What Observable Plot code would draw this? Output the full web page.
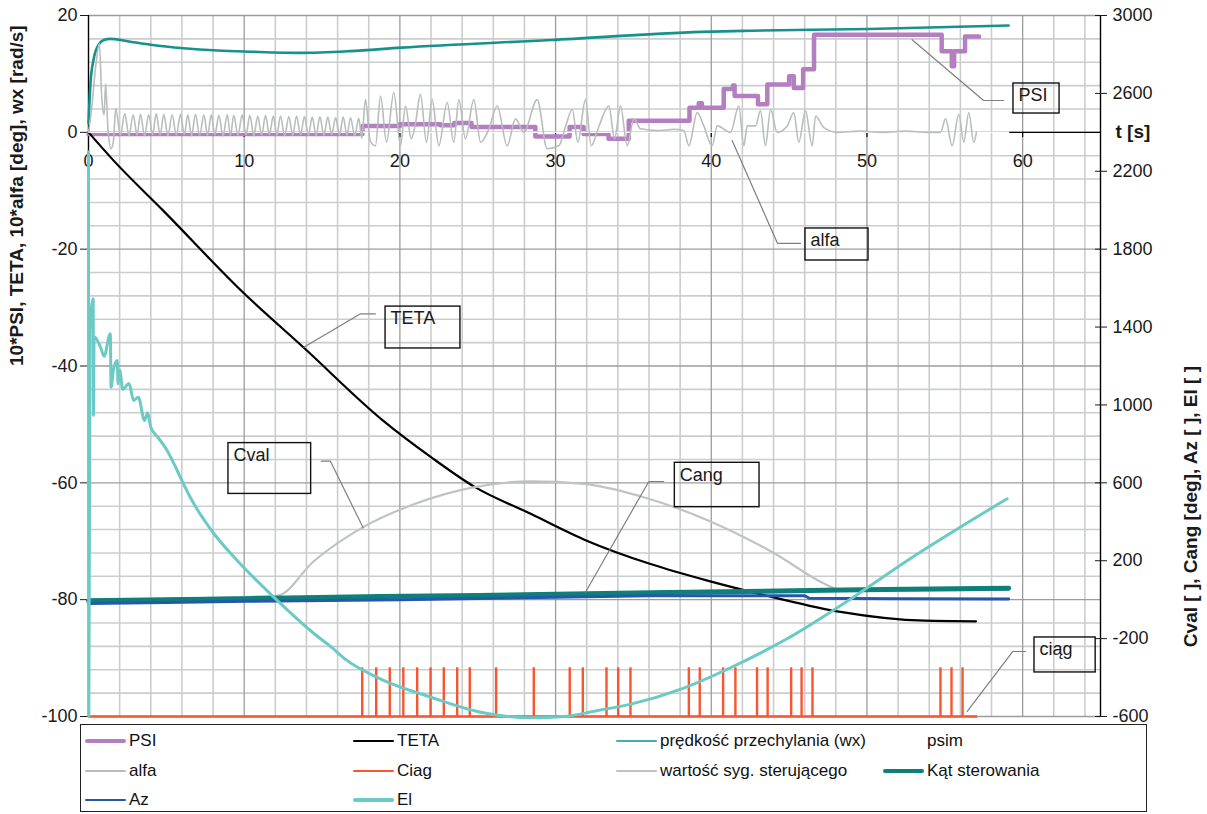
<!DOCTYPE html>
<html>
<head>
<meta charset="utf-8">
<script src="https://cdn.jsdelivr.net/npm/d3@7"></script>
<script src="https://cdn.jsdelivr.net/npm/@observablehq/plot@0.6"></script>
<style>
  body { margin: 0; background: #fff; font-family: "Liberation Sans", Arial, sans-serif; }
  #wrap { position: relative; width: 1207px; height: 814px; }
  #chart { position: absolute; left: 0; top: 0; }
  #legend { position: absolute; left: 80px; top: 724px; width: 1067px; height: 88px;
            border: 1.5px solid #222; box-sizing: border-box; background: #fff; }
  .item { position: absolute; font-size: 17px; color: #111; white-space: nowrap;
          line-height: 20px; display: flex; align-items: center; }
  .sw { display: inline-block; width: 41px; margin-right: 3px; border-radius: 2px; }
</style>
</head>
<body>
<div id="wrap"><div id="chart"></div><div id="legend"></div></div>
<script>
// ---- axis ticks -------------------------------------------------------
const xTicks = [0, 10, 20, 30, 40, 50, 60];
const yTicks = [-100, -80, -60, -40, -20, 0, 20];
const rightTicks = [-600, -200, 200, 600, 1000, 1400, 1800, 2200, 2600, 3000];

// ---- left-axis series: [t s, value] ------------------------------------
const psi = [[0, -0.3], [17.6, 1.1], [20.0, 1.4], [22.6, 1.2], [23.5, 1.6], [24.6, 0.9],
  [28.7, -0.7], [30.9, 0.9], [31.8, -0.3], [33.4, -1.1], [34.7, 2.0], [38.6, 4.2],
  [39.2, 5.0], [39.4, 4.2], [40.8, 7.4], [41.4, 8.0], [41.5, 6.2], [43.0, 4.8],
  [43.6, 8.2], [45.0, 9.6], [45.3, 7.6], [45.9, 10.8], [46.6, 16.7], [54.8, 13.9],
  [55.45, 11.3], [55.6, 13.9], [56.3, 16.4], [57.2, 16.4]];

const teta = [[0, 0], [1.6, -4.8], [4.8, -13.4], [10, -27.6], [13.8, -36.8], [18.9, -49.3],
  [22, -55.6], [24.8, -60.7], [28.4, -65.3], [32, -69.9], [36.1, -73.9], [39.7, -76.7],
  [44, -79.6], [48.3, -82.1], [53.7, -83.6], [57, -83.7]];

const wx = [[0, 1.5], [0.13, 8.5], [0.33, 12.5], [0.65, 15.0], [0.98, 15.8], [1.4, 16.0],
  [2.5, 15.6], [4.0, 15.0], [6.1, 14.4], [8.3, 14.0], [10.4, 13.8], [13.6, 13.6],
  [16.8, 13.9], [20.1, 14.5], [29.7, 15.8], [39.4, 17.2], [42.6, 17.4], [50.1, 17.7],
  [59.1, 18.3]];

const psim = [[0, 0], [59.1, 0]];

const alfa = [[0, 0], [0.2, 4], [0.45, 11], [0.7, 15.2], [0.85, 6], [1.0, 3], [1.1, 8.3],
  [1.25, 0.5], [1.45, -2.8], [1.6, -1.5], [1.75, 4.1], [2.05, -0.5],
  [2.33, 3.2], [2.6, -0.6], [2.87, 3.0], [3.12, -0.5], [3.34, 3.1], [3.6, -0.6],
  [3.87, 3.0], [4.12, -0.4], [4.35, 3.2], [4.6, -0.5], [4.84, 3.1], [5.1, -0.6],
  [5.37, 3.0], [5.64, -0.5], [5.91, 3.1], [6.15, -0.4], [6.38, 3.0], [6.62, -0.6],
  [6.87, 3.1], [7.14, -0.5], [7.41, 3.0], [7.65, -0.5], [7.88, 3.0], [8.12, -0.4],
  [8.37, 2.9], [8.64, -0.6], [8.91, 3.0], [9.12, -0.5], [9.33, 2.9], [9.6, -0.5],
  [9.87, 3.0], [10.12, -0.4], [10.36, 2.9], [10.62, -0.6], [10.87, 2.8], [11.12, -0.5],
  [11.37, 2.9], [11.62, -0.4], [11.87, 2.8], [12.1, -0.5], [12.33, 2.8], [12.6, -0.6],
  [12.87, 2.7], [13.12, -0.5], [13.36, 2.8], [13.62, -0.4], [13.87, 2.7], [14.12, -0.5],
  [14.37, 2.6], [14.62, -0.6], [14.86, 2.7], [15.12, -0.5], [15.37, 2.6], [15.62, -0.4],
  [15.87, 2.5], [16.12, -0.5], [16.36, 2.6], [16.6, -0.5], [16.83, 2.5], [17.1, -0.6],
  [17.36, 2.4], [17.55, -1.0],
  [17.79, 5.6], [18.1, -1.5], [18.43, -2.3], [18.76, 6.2], [19.14, -1.7], [19.61, 6.8],
  [20.04, -2.3], [20.36, 4.5], [20.73, -1.1], [21.0, 1.5], [21.32, 6.5], [21.71, -1.7],
  [22.07, 5.6], [22.5, -2.3], [23.04, 5.1], [23.46, -1.7], [23.79, 5.6], [24.21, -1.1],
  [24.75, 5.6], [25.18, -1.7], [25.71, 0.5], [26.25, 4.5], [26.89, -2.3], [27.43, 2.3],
  [27.96, 0], [28.82, 5.6], [29.46, -2.8], [30.21, -2.3], [30.64, 1.0], [31.07, 3.9],
  [31.43, -1.7], [31.92, 5.6], [32.29, -2.3], [32.78, 1.0], [33.42, 4.5], [33.79, -1.1],
  [34.17, 4.5], [34.6, -2.3], [35.03, 2.3], [35.46, 0.6], [36.53, 0.3], [37.6, 0.5],
  [38.24, 0.3], [38.56, -2.3], [39.1, 3.4], [39.52, 1.1], [40.06, -2.3], [40.38, 1.1],
  [41.24, 0], [41.77, 4.5], [42.09, -2.3], [42.31, 1.1], [42.84, 1.1], [43.16, 3.7],
  [43.48, -2.3], [43.81, 3.9], [44.23, 0], [44.88, 1.1], [45.3, 3.4], [45.62, -1.7],
  [46.05, 3.7], [46.48, -2.3], [46.7, 2.8], [47.23, 0.8], [48.09, 0], [49.5, 0.2],
  [51.0, 0], [52.5, 0.2], [54.0, 0], [54.72, 0], [55.05, 2.3], [55.47, -2.3],
  [55.9, 3.1], [56.22, -1.7], [56.54, 3.4], [56.86, -1.7], [57.03, 0]];

// ---- right-axis series: [t s, value] -----------------------------------
const ciagPulses = [17.58, 18.48, 19.35, 20.22, 21.11, 21.97, 22.82, 23.68, 24.49, 26.18,
  28.6, 30.91, 31.75, 33.27, 34.02, 34.81, 38.56, 39.26, 40.76, 41.55, 42.94, 43.62,
  45.13, 45.8, 46.5, 54.72, 55.43, 56.14];
const ciagBase = -600, ciagTop = -350, ciagEnd = 57.1;

const cval = [[0, 0], [12.1, 20], [14.5, 200], [17.7, 375], [20.9, 490], [24.8, 578],
  [28.4, 607], [31.8, 595], [35.5, 530], [39.8, 407], [44.1, 236], [47.3, 81],
  [48.4, 47], [53, 48], [59.1, 50]];

const cang = [[0, -5], [5, 0], [10, 5], [18.8, 16], [25, 22], [30, 28], [36.1, 35],
  [42, 42], [48.4, 50], [54, 55], [59.1, 59]];

const az = [[0, -20], [5, -14], [10.2, -8], [20, 0], [30, 12], [36, 20], [46, 20],
  [46.3, 7], [52, 5], [59.1, 4]];

const el = [[0, 2300], [0.02, -600], [0.1, 1380], [0.3, 1545], [0.32, 946], [0.36, 1350],
  [0.77, 1297], [1.0, 1250], [1.4, 1365], [1.45, 1091], [1.6, 1180], [1.84, 1228],
  [1.9, 1109], [2.0, 1180], [2.2, 1080], [2.6, 1110], [2.9, 1023], [3.2, 1040],
  [3.6, 920], [3.8, 960], [4.0, 886], [4.5, 830], [5.05, 766], [5.6, 680], [6.1, 595],
  [6.65, 509], [8.0, 345], [9.55, 201], [11.9, 13], [14.5, -175], [15.6, -244],
  [16.6, -312], [18.7, -405], [22.0, -501], [25.2, -578], [28.4, -607], [30.6, -600],
  [32.7, -569], [34.9, -535], [38.1, -458], [41.3, -347], [44.66, -210], [49.6, 38],
  [52.6, 201], [59.0, 518]];

// right axis (-600..3000) shares the frame with the left axis (-100..20)
const toLeft = r => (r + 600) / 30 - 100;
const toRight = l => (l + 100) * 30 - 600;
const onLeft = s => s.map(([t, v]) => ({t, v}));
const onRight = s => s.map(([t, v]) => ({t, v: toLeft(v)}));

const colors = {
  psi: "#b47fc0", teta: "#000000", wx: "#16918b", psim: "#ffffff", alfa: "#b9bdbd",
  ciag: "#fa5531", cval: "#c0c3c3", cang: "#0e8079", az: "#2458a8", el: "#6ccac5"
};

// callout boxes with their leader lines
const notes = [
  {label: "PSI",  x1: 59.41, x2: 62.37, y1: 3.22,   y2: 8.36,
   lead: [[52.9, 15.84], [57.49, 5.45], [58.77, 5.45]]},
  {label: "alfa", x1: 46.05, x2: 50.1,  y1: -21.94, y2: -16.46,
   lead: [[41.34, -1.4], [44.25, -19.0], [45.73, -19.0]]},
  {label: "TETA", x1: 19.08, x2: 23.89, y1: -37.0,  y2: -29.83,
   lead: [[13.83, -36.78], [17.47, -31.06], [18.43, -31.06]]},
  {label: "Cval", x1: 8.99,  x2: 14.3,  y1: -61.9,  y2: -53.2,
   lead: [[17.64, -67.7], [15.54, -56.3], [14.95, -56.3]]},
  {label: "Cang", x1: 37.66, x2: 43.1,  y1: -64.17, y2: -56.57,
   lead: [[31.92, -78.72], [35.99, -59.77], [36.95, -59.77]]},
  {label: "ciąg", x1: 60.76, x2: 64.69, y1: -92.46, y2: -86.47,
   lead: [[56.44, -99.14], [59.37, -88.87], [60.18, -88.87]]}
];
const leaders = notes.flatMap((n, i) => n.lead.map(([t, v]) => ({t, v, k: i})));

const line = (data, color, w, extra = {}) =>
  Plot.line(data, {x: "t", y: "v", stroke: color, strokeWidth: w, ...extra});
const smooth = {curve: "monotone-x"};

const chart = Plot.plot({
  width: 1207, height: 736,
  marginTop: 15, marginBottom: 20, marginLeft: 88, marginRight: 107,
  x: {domain: [0, 65], axis: null},
  y: {domain: [-100, 20], axis: null},
  style: {fontFamily: "'Liberation Sans', Arial, sans-serif", fontSize: "18px",
          color: "#1a1a1a", background: "transparent", overflow: "visible"},
  marks: [
    // grid
    Plot.ruleX(d3.range(2, 65, 2).filter(t => t % 10 !== 0), {stroke: "#cbcdcd", strokeWidth: 1.6}),
    Plot.ruleY(d3.range(-96, 20, 4).filter(v => v % 20 !== 0), {stroke: "#cbcdcd", strokeWidth: 1.6}),
    Plot.ruleX(xTicks.filter(t => t > 0), {stroke: "#9c9c9c", strokeWidth: 1.3}),
    Plot.ruleY(yTicks, {stroke: "#9c9c9c", strokeWidth: 1.3}),
    // time axis along zero
    Plot.ruleY([0], {stroke: "#000", strokeWidth: 1.3}),
    Plot.ruleX(xTicks, {x: d => d, y1: 0, y2: -0.9, stroke: "#000", strokeWidth: 1.2}),
    Plot.text(xTicks, {x: d => d, y: 0, dy: 29, text: d => String(d), fontSize: 18}),
    Plot.text(["t [s]"], {x: 65, y: 0, dx: 15, textAnchor: "start", fontWeight: "bold", fontSize: 19}),
    // left axis
    Plot.ruleX([0], {stroke: "#000", strokeWidth: 1.4}),
    Plot.axisY({anchor: "left", ticks: yTicks, tickFormat: d => String(d), tickSize: 8,
                tickPadding: 3, fontSize: 18, label: null}),
    Plot.text(["10*PSI, TETA, 10*alfa [deg], wx [rad/s]"],
      {frameAnchor: "left", dx: -72, rotate: -90, fontWeight: "bold", fontSize: 19, text: d => d}),
    // series
    line(onLeft(psi), colors.psi, 4.5, {curve: "step-after"}),
    line(onLeft(teta), colors.teta, 2.2, smooth),
    line(onLeft(wx), colors.wx, 2.6, smooth),
    line(onLeft(psim), colors.psim, 1.5),
    line(onLeft(alfa), colors.alfa, 1.6, smooth),
    Plot.ruleY([toLeft(ciagBase)], {x1: 0, x2: ciagEnd, stroke: colors.ciag, strokeWidth: 2.6}),
    Plot.ruleX(ciagPulses, {x: d => d, y1: toLeft(ciagBase), y2: toLeft(ciagTop),
                            stroke: colors.ciag, strokeWidth: 2.4}),
    line(onRight(cval), colors.cval, 2.2, smooth),
    line(onRight(cang), colors.cang, 5),
    line(onRight(az), colors.az, 3),
    line(onRight(el), colors.el, 3, smooth),
    // callouts
    Plot.line(leaders, {x: "t", y: "v", z: "k", stroke: "#7f7f7f", strokeWidth: 1.2}),
    Plot.rect(notes, {x1: "x1", x2: "x2", y1: "y1", y2: "y2", fill: "none",
                      stroke: "#111", strokeWidth: 1.4}),
    Plot.text(notes, {x: "x1", y: "y2", text: "label", textAnchor: "start", lineAnchor: "top",
                      dx: 5, dy: 5, fontSize: 18}),
    // right axis
    Plot.ruleX([65], {stroke: "#000", strokeWidth: 1.4}),
    Plot.axisY({anchor: "right", ticks: rightTicks.map(toLeft),
                tickFormat: d => String(Math.round(toRight(d))),
                tickSize: 12, dx: -6, tickPadding: 6, fontSize: 18, label: null}),
    Plot.text(["Cval [ ], Cang [deg], Az [ ], El [ ]"],
      {frameAnchor: "right", dx: 90, rotate: -90, fontWeight: "bold", fontSize: 19, text: d => d})
  ]
});
document.getElementById("chart").appendChild(chart);

// ---- legend ------------------------------------------------------------
const legendItems = [
  {name: "PSI", color: colors.psi, w: 4.5},
  {name: "TETA", color: colors.teta, w: 2},
  {name: "prędkość przechylania (wx)", color: "#3fb0aa", w: 2.5},
  {name: "psim", color: colors.psim, w: 2},
  {name: "alfa", color: colors.alfa, w: 1.8},
  {name: "Ciag", color: colors.ciag, w: 2.5},
  {name: "wartość syg. sterującego", color: colors.cval, w: 1.8},
  {name: "Kąt sterowania", color: colors.cang, w: 4.5},
  {name: "Az", color: colors.az, w: 2.8},
  {name: "El", color: colors.el, w: 4}
];
const colLeft = [4, 272, 535, 802];
const rowTop = [6, 36, 65];
const legend = document.getElementById("legend");
legendItems.forEach((it, i) => {
  const el = document.createElement("div");
  el.className = "item";
  el.style.left = colLeft[i % 4] + "px";
  el.style.top = rowTop[Math.floor(i / 4)] + "px";
  const sw = document.createElement("span");
  sw.className = "sw";
  sw.style.height = it.w + "px";
  sw.style.background = it.color;
  el.appendChild(sw);
  el.appendChild(document.createTextNode(it.name));
  legend.appendChild(el);
});
</script>
</body>
</html>
